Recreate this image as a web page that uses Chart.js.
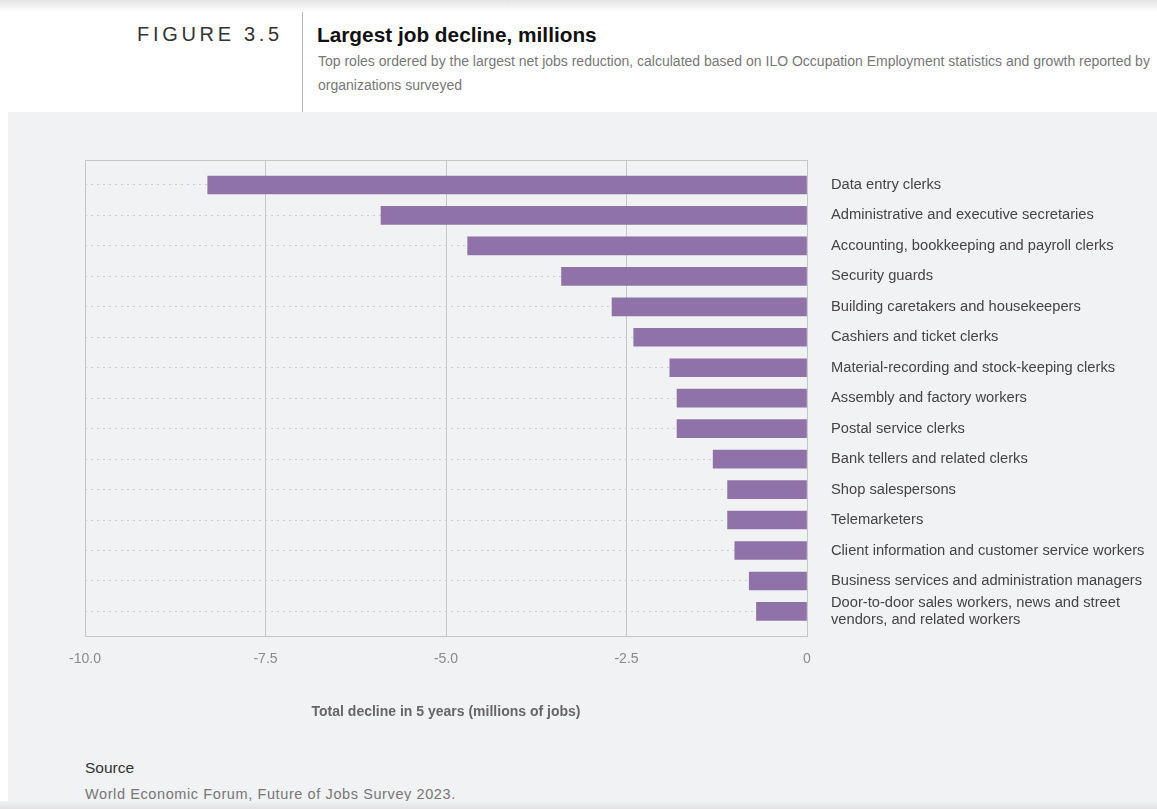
<!DOCTYPE html>
<html lang="en">
<head>
  <meta charset="UTF-8" />
  <title>Largest job decline</title>
  <script src="https://cdn.jsdelivr.net/npm/chart.js"></script>
  <style>
    body {
      margin: 0;
      width: 1157px;
      height: 809px;
      position: relative;
      overflow: hidden;
      background: #fff;
      font-family: "Liberation Sans", Arial, sans-serif;
    }
    .topshade {
      position: absolute; left: 0; top: 0; width: 1157px; height: 12px;
      background: linear-gradient(#e4e4e4, #fff);
    }
    .fig {
      position: absolute; left: 137px; top: 23px;
      font-size: 20px; letter-spacing: 3.7px; color: #333;
    }
    .divider {
      position: absolute; left: 302px; top: 12px; width: 1px; height: 100px;
      background: #b8b8b8;
    }
    .title {
      position: absolute; left: 317px; top: 23px;
      font-size: 20.8px; font-weight: bold; color: #111;
    }
    .subtitle {
      position: absolute; left: 318px; top: 49px;
      font-size: 14px; line-height: 24px; color: #777; white-space: nowrap;
    }
    .panel {
      position: absolute; left: 8px; top: 112px; right: 0; bottom: 0;
      background: #f1f2f4;
    }
    .bottomshade {
      position: absolute; left: 0; bottom: 0; width: 1157px; height: 8px;
      background: linear-gradient(#f1f2f4, #e2e2e4);
    }
    #chartBox {
      position: absolute; left: 0; top: 112px; width: 1157px; height: 620px;
    }
    .src {
      position: absolute; left: 85px; top: 759px; font-size: 15.5px; color: #333;
    }
    .srctext {
      position: absolute; left: 85px; top: 786px; font-size: 14.5px; color: #777;
      letter-spacing: 0.6px;
    }
  </style>
</head>
<body>
  <div class="topshade"></div>
  <div class="fig">FIGURE 3.5</div>
  <div class="divider"></div>
  <div class="title">Largest job decline, millions</div>
  <div class="subtitle">Top roles ordered by the largest net jobs reduction, calculated based on ILO Occupation Employment statistics and growth reported by<br>organizations surveyed</div>
  <div class="panel"></div>
  <div id="chartBox"><canvas id="jobChart"></canvas></div>
  <div class="src">Source</div>
  <div class="srctext">World Economic Forum, Future of Jobs Survey 2023.</div>
  <div class="bottomshade"></div>

  <script>
    const roles = [
      'Data entry clerks',
      'Administrative and executive secretaries',
      'Accounting, bookkeeping and payroll clerks',
      'Security guards',
      'Building caretakers and housekeepers',
      'Cashiers and ticket clerks',
      'Material-recording and stock-keeping clerks',
      'Assembly and factory workers',
      'Postal service clerks',
      'Bank tellers and related clerks',
      'Shop salespersons',
      'Telemarketers',
      'Client information and customer service workers',
      'Business services and administration managers',
      ['Door-to-door sales workers, news and street', 'vendors, and related workers']
    ];
    const decline = [-8.3, -5.9, -4.7, -3.4, -2.7, -2.4, -1.9, -1.8, -1.8, -1.3, -1.1, -1.1, -1.0, -0.8, -0.7];
    const xTicks = [-10, -7.5, -5, -2.5, 0];
    const xTickLabels = ['-10.0', '-7.5', '-5.0', '-2.5', '0'];

    const points = decline.map((v, i) => ({ x: v, y: i }));

    const framePlugin = {
      id: 'frame',
      beforeDatasetsDraw(chart) {
        const a = chart.chartArea;
        const ctx = chart.ctx;
        ctx.save();
        ctx.strokeStyle = '#c6c6c8';
        ctx.lineWidth = 1;
        ctx.strokeRect(Math.round(a.left) + 0.5, Math.round(a.top) + 0.5,
          Math.round(a.right - a.left), Math.round(a.bottom - a.top));
        ctx.restore();
      }
    };

    new Chart(document.getElementById('jobChart'), {
      type: 'bar',
      data: {
        datasets: [{
          data: points,
          backgroundColor: '#8f73a8',
          barThickness: 18
        }]
      },
      options: {
        indexAxis: 'y',
        responsive: true,
        maintainAspectRatio: false,
        animation: false,
        layout: { padding: { left: 85, right: 0, top: 48, bottom: 7 } },
        plugins: { legend: { display: false }, tooltip: { enabled: false } },
        scales: {
          x: {
            type: 'linear',
            min: -10,
            max: 0,
            afterBuildTicks(scale) {
              scale.ticks = xTicks.map(v => ({ value: v }));
            },
            ticks: {
              padding: 14,
              autoSkip: false,
              color: '#8a8a8a',
              font: { family: '"Liberation Sans", Arial', size: 14 },
              callback: (v) => xTickLabels[xTicks.indexOf(v)]
            },
            grid: { color: '#c6c6c8', drawTicks: false },
            border: { display: false },
            title: {
              display: true,
              text: 'Total decline in 5 years (millions of jobs)',
              color: '#666',
              font: { family: '"Liberation Sans", Arial', size: 14, weight: 'bold' },
              padding: { top: 23, bottom: 4 }
            }
          },
          y: {
            type: 'linear',
            reverse: true,
            offset: false,
            position: 'right',
            min: -0.82,
            max: 14.82,
            afterBuildTicks(scale) {
              scale.ticks = roles.map((r, i) => ({ value: i }));
            },
            afterFit(scale) { scale.width = 350; },
            ticks: {
              padding: 24,
              autoSkip: false,
              color: '#444',
              crossAlign: 'near',
              font: { family: '"Liberation Sans", Arial', size: 14.7 },
              callback: (v) => roles[v]
            },
            grid: { color: '#cfcfd2', offset: false, drawTicks: false },
            border: { display: false, dash: [2, 4] }
          }
        }
      },
      plugins: [framePlugin]
    });
  </script>
</body>
</html>
